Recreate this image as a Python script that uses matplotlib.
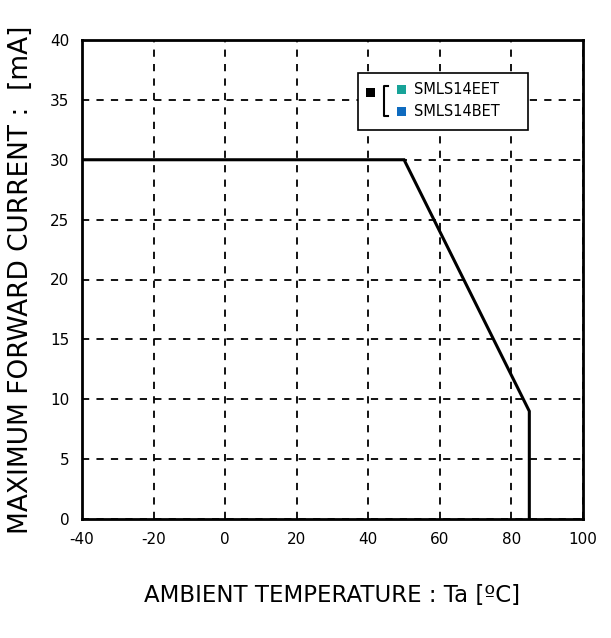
import matplotlib.pyplot as plt
from matplotlib.patches import Rectangle

plt.rcParams['axes.unicode_minus'] = False

# derating curve
temp = [-40, 50, 85, 85]
current = [30, 30, 9, 0]
parts = ['SMLS14EET', 'SMLS14BET']
part_colors = ['#17a398', '#0f6bbf']

fig = plt.figure(figsize=(6.11, 6.38), dpi=100)
ax = fig.add_axes([82 / 611, 1 - 519 / 638, 501 / 611, 479 / 638])

ax.plot(temp, current, color='black', lw=2.2, solid_joinstyle='miter')
ax.set_xlim(-40, 100)
ax.set_ylim(0, 40)
ax.set_xticks(range(-40, 101, 20))
ax.set_yticks(range(0, 41, 5))
ax.grid(True, color='black', ls=(0, (4, 4)), lw=1.3)
ax.tick_params(length=0, labelsize=11, pad=9)
for s in ax.spines.values():
    s.set_linewidth(2)

ax.set_xlabel('AMBIENT TEMPERATURE : Ta [ºC]', fontsize=16.5, labelpad=27)
ax.set_ylabel('MAXIMUM FORWARD CURRENT :  [mA]', fontsize=19, labelpad=12)

# legend drawn by hand
tr = fig.transFigure
W, H = 611, 638
def fx(px): return px / W
def fy(py): return 1 - py / H
box = Rectangle((fx(358), fy(130)), fx(528) - fx(358), fy(73) - fy(130),
                transform=tr, fill=True, fc='white', ec='black', lw=1.2)
fig.add_artist(box)
fig.add_artist(Rectangle((fx(366), fy(97)), 9 / W, 9 / H, transform=tr, fc='black', ec='none'))
fig.add_artist(plt.Line2D([fx(388), fx(384), fx(384), fx(388)],
                          [fy(86), fy(86), fy(116), fy(116)], transform=tr, color='black', lw=1.5))
for i, (name, c) in enumerate(zip(parts, part_colors)):
    yc = 90 + 22 * i
    fig.add_artist(Rectangle((fx(397), fy(yc + 4)), 9 / W, 9 / H, transform=tr, fc=c, ec='none'))
    fig.text(fx(414), fy(yc), name, fontsize=10.5, va='center', ha='left')

fig.savefig('out.png', dpi=100)
